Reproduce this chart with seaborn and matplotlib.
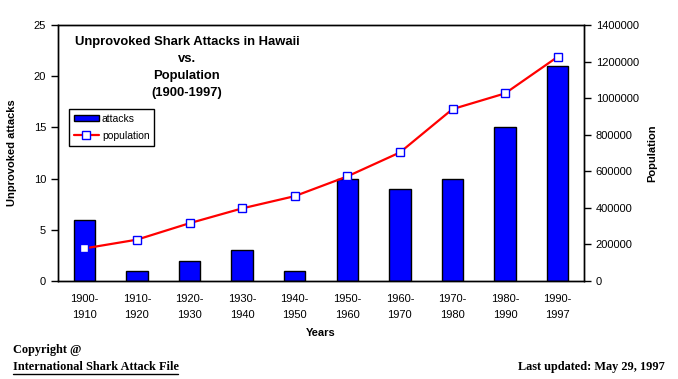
import numpy as np
import pandas as pd
import matplotlib
matplotlib.use('Agg')
import matplotlib.pyplot as plt
from matplotlib.lines import Line2D
from matplotlib.patches import Patch
import seaborn as sns

# --- Data ---
periods = ['1900-\n1910', '1910-\n1920', '1920-\n1930', '1930-\n1940', '1940-\n1950',
           '1950-\n1960', '1960-\n1970', '1970-\n1980', '1980-\n1990', '1990-\n1997']
attacks = [6, 1, 2, 3, 1, 10, 9, 10, 15, 21]
population = [178000, 226000, 316000, 397000, 464000, 572000, 703000, 940000, 1026000, 1226000]

attack_ticks = [0, 5, 10, 15, 20, 25]
pop_ticks = [0, 200000, 400000, 600000, 800000, 1000000, 1200000, 1400000]

df = pd.DataFrame({'period': periods, 'attacks': attacks, 'population': population})

sns.set_style('white')
plt.rcParams['font.family'] = ['Liberation Sans', 'DejaVu Sans']
plt.rcParams.update({'text.color': 'black', 'axes.labelcolor': 'black',
                     'xtick.color': 'black', 'ytick.color': 'black'})

fig = plt.figure(figsize=(6.78, 3.79), dpi=100)
ax = fig.add_axes([58 / 678, 98 / 379, 526 / 678, 256 / 379])

sns.barplot(data=df, x='period', y='attacks', color='#0000FF', saturation=1,
            edgecolor='black', linewidth=1, width=0.41, ax=ax)

ax2 = ax.twinx()
sns.pointplot(data=df, x='period', y='population', color='red', markers='s',
              linestyles='-', linewidth=1.6, markersize=5.5,
              markerfacecolor='white', markeredgecolor='#0000FF', markeredgewidth=1,
              ax=ax2)

ax.set_ylim(0, 25)
ax.set_yticks(attack_ticks)
ax2.set_ylim(0, 1400000)
ax2.set_yticks(pop_ticks)
ax2.set_yticklabels([str(v) for v in pop_ticks])
ax.set_xlim(-0.5, len(periods) - 0.5)

for a in (ax, ax2):
    for s in a.spines.values():
        s.set_color('black')
        s.set_linewidth(1)

ax.set_xticks(np.arange(len(periods)))
ax.set_xticklabels(periods, fontsize=8, linespacing=1.75)
ax.set_xticks(np.arange(-0.5, len(periods), 1), minor=True)
ax.tick_params(axis='x', which='major', length=0, pad=9)
ax.tick_params(axis='x', which='minor', length=5, direction='out', color='black', width=1)
ax.tick_params(axis='y', length=5, direction='out', color='black', width=1, labelsize=8, left=True)
ax2.tick_params(axis='y', length=5, direction='out', color='black', width=1, labelsize=8, right=True)

ax.set_xlabel('Years', fontsize=8, fontweight='bold', labelpad=6)
ax.set_ylabel('Unprovoked attacks', fontsize=8, fontweight='bold', labelpad=12)
ax2.set_ylabel('Population', fontsize=8, fontweight='bold', labelpad=6)

ax.text(0.245, 0.958, 'Unprovoked Shark Attacks in Hawaii\nvs.\nPopulation\n(1900-1997)',
        transform=ax.transAxes, ha='center', va='top', fontsize=9.4, fontweight='bold',
        linespacing=1.55, zorder=5)

handles = [Patch(facecolor='#0000FF', edgecolor='black', linewidth=1),
           Line2D([], [], color='red', linewidth=1.6, marker='s', markersize=5.5,
                  markerfacecolor='white', markeredgecolor='#0000FF')]
leg = ax2.legend(handles, ['attacks', 'population'], loc='upper left',
                 bbox_to_anchor=(11 / 526, 172 / 256), fontsize=7.5, frameon=True,
                 fancybox=False, edgecolor='black', framealpha=1,
                 handlelength=2.4, handleheight=0.6, handletextpad=0.3,
                 borderpad=0.45, labelspacing=0.7, borderaxespad=0)
leg.get_frame().set_linewidth(1)

serif = ['Liberation Serif', 'DejaVu Serif']
fig.text(13 / 678, 1 - 350 / 379, 'Copyright @', fontsize=8.8, fontweight='bold',
         family=serif, va='center', ha='left')
fig.text(13 / 678, 1 - 367 / 379, 'International Shark Attack File', fontsize=8.8,
         fontweight='bold', family=serif, va='center', ha='left')
fig.add_artist(Line2D([13 / 678, 178 / 678], [1 - 374 / 379, 1 - 374 / 379],
                      color='black', linewidth=1))
fig.text(665 / 678, 1 - 367 / 379, 'Last updated: May 29, 1997', fontsize=8.8,
         fontweight='bold', family=serif, va='center', ha='right')

fig.savefig('out.png', dpi=100)
